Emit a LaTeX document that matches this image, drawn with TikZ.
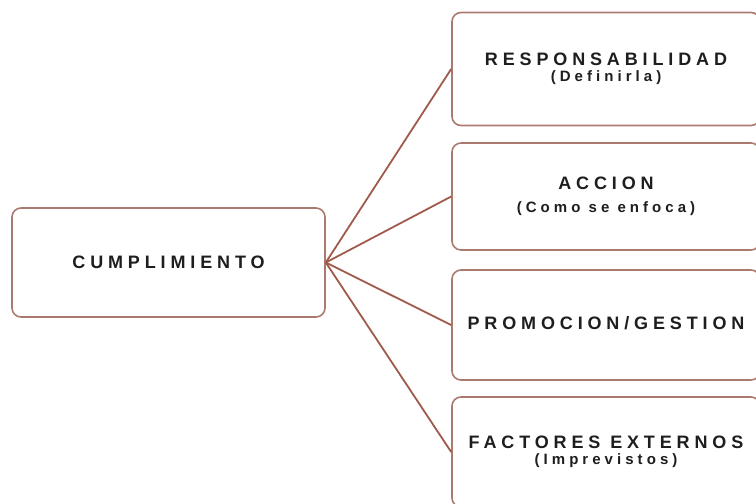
\documentclass[tikz,border=0pt]{standalone}
\usepackage{fontspec}
\setmainfont{Liberation Sans}
\newfontfamily\boxfont[LetterSpace=27]{Liberation Sans}
\definecolor{linkc}{RGB}{160,90,75}
\definecolor{boxc}{RGB}{170,122,112}
\definecolor{txtc}{RGB}{30,30,30}
\tikzset{
  bx/.style={draw=boxc, line width=1.6pt, rounded corners=9pt, fill=white,
    align=center, text=txtc, inner sep=0pt,
    font=\boxfont\bfseries\fontsize{18}{19}\selectfont},
  lnk/.style={draw=linkc, line width=1.8pt}
}
\newcommand{\subl}[1]{{\fontsize{15}{16}\selectfont #1}}
\begin{document}
\begin{tikzpicture}[x=1pt,y=-1pt]
\useasboundingbox (0,0) rectangle (756,504);
\clip (0,0) rectangle (756,504);
\node[bx, minimum width=313pt, minimum height=109pt] (c) at (168.5,262.5) {CUMPLIMIENTO};
\node[bx, minimum width=308pt, minimum height=113pt] (b1) at (606,69) {RESPONSABILIDAD\\[-3pt]\subl{(Definirla)}};
\node[bx, minimum width=308pt, minimum height=107pt] (b2) at (606,196.5) {ACCION\\[4pt]\subl{(Como se enfoca)}};
\node[bx, minimum width=308pt, minimum height=110pt] (b3) at (606,325) {\raisebox{4pt}{PROMOCION/GESTION}};
\node[bx, minimum width=308pt, minimum height=110pt] (b4) at (606,452) {FACTORES EXTERNOS\\[-3pt]\subl{(Imprevistos)}};
\foreach \b in {b1,b2,b3,b4} \draw[lnk] (c.east) -- (\b.west);
\end{tikzpicture}
\end{document}
